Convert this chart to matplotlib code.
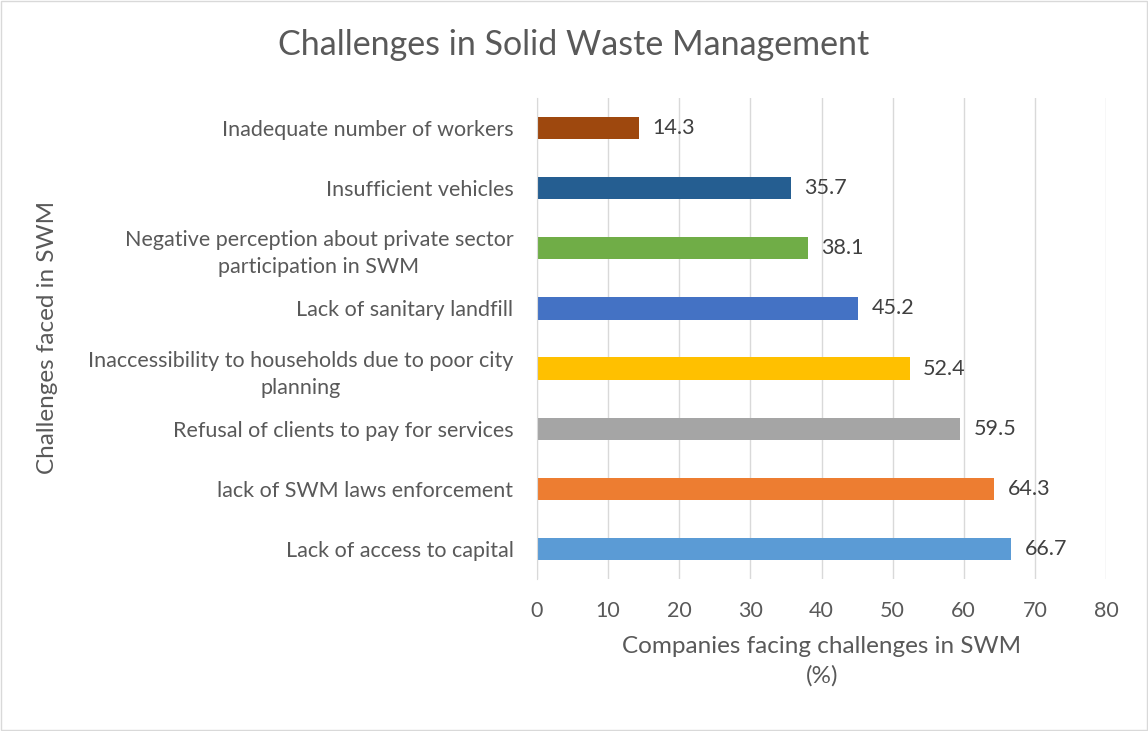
import matplotlib.pyplot as plt

categories = [
    "Lack of access to capital",
    "lack of SWM laws enforcement",
    "Refusal of clients to pay for services",
    "Inaccessibility to households due to poor city\nplanning",
    "Lack of sanitary landfill",
    "Negative perception about private sector\nparticipation in SWM",
    "Insufficient vehicles",
    "Inadequate number of workers",
]
values = [66.7, 64.3, 59.5, 52.4, 45.2, 38.1, 35.7, 14.3]
colors = ["#5B9BD5", "#ED7D31", "#A5A5A5", "#FFC000",
          "#4472C4", "#70AD47", "#255E91", "#9E480E"]

plt.rcParams["font.family"] = ["Lato", "DejaVu Sans"]
grey = "#595959"

fig = plt.figure(figsize=(11.48, 7.31), dpi=100)
ax = fig.add_axes([0.4678, 0.208, 0.4956, 0.658])

ypos = range(len(categories))
ax.barh(ypos, values, height=0.37, color=colors, zorder=3)
for y, v in zip(ypos, values):
    ax.text(v + 1.9, y, f"{v}", va="center", ha="left", fontsize=15.5, color="#404040")

ax.set_xlim(0, 80)
ax.set_ylim(-0.5, len(categories) - 0.5)
ax.set_xticks(range(0, 81, 10))
ax.set_yticks(list(ypos))
ax.set_yticklabels(categories, multialignment="center", linespacing=1.45)
ax.tick_params(axis="both", length=0, labelsize=15.5, colors=grey)
ax.tick_params(axis="y", pad=17)
ax.tick_params(axis="x", pad=16)
ax.grid(axis="x", color="#D9D9D9", linewidth=1, zorder=0)
for s in ["top", "right", "bottom"]:
    ax.spines[s].set_visible(False)
ax.spines["left"].set_color("#D9D9D9")
ax.spines["left"].set_zorder(4)

fig.text(0.716, 0.13, "Companies facing challenges in SWM\n(%)", fontsize=17.5,
         color=grey, ha="center", va="top", multialignment="center", linespacing=1.45)
fig.text(0.041, 0.538, "Challenges faced in SWM", rotation=90, fontsize=17.5,
         color=grey, ha="center", va="center")
fig.text(0.5, 0.938, "Challenges in Solid Waste Management", fontsize=24.5,
         color=grey, ha="center", va="center")

fig.patches.append(plt.Rectangle((0.001, 0.001), 0.998, 0.998, transform=fig.transFigure,
                                 fill=False, edgecolor="#D9D9D9", linewidth=1))

fig.savefig("out.png", dpi=100, facecolor="white")
